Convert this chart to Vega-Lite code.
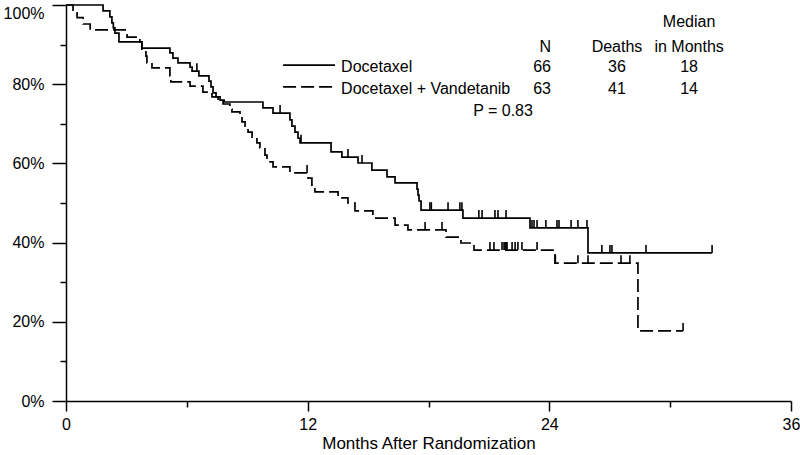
{
  "$schema": "https://vega.github.io/schema/vega-lite/v6.json",
  "width": 725,
  "height": 396,
  "autosize": {"type": "none"},
  "padding": {"left": 66, "top": 5, "right": 9, "bottom": 54},
  "background": "white",
  "config": {"view": {"stroke": null}, "font": "Liberation Sans", "axis": {"grid": false}},
  "datasets": {
    "curves": [
      {"g": "Docetaxel", "t": 0, "s": 100},
      {"g": "Docetaxel", "t": 1.84, "s": 98.5},
      {"g": "Docetaxel", "t": 2.18, "s": 97.0},
      {"g": "Docetaxel", "t": 2.28, "s": 95.5},
      {"g": "Docetaxel", "t": 2.35, "s": 94.2},
      {"g": "Docetaxel", "t": 2.43, "s": 92.9},
      {"g": "Docetaxel", "t": 2.63, "s": 90.7},
      {"g": "Docetaxel", "t": 3.77, "s": 89.1},
      {"g": "Docetaxel", "t": 5.16, "s": 87.9},
      {"g": "Docetaxel", "t": 5.31, "s": 86.6},
      {"g": "Docetaxel", "t": 5.56, "s": 85.4},
      {"g": "Docetaxel", "t": 6.16, "s": 84.3},
      {"g": "Docetaxel", "t": 6.26, "s": 83.3},
      {"g": "Docetaxel", "t": 6.6, "s": 82.1},
      {"g": "Docetaxel", "t": 7.1, "s": 80.8},
      {"g": "Docetaxel", "t": 7.2, "s": 79.3},
      {"g": "Docetaxel", "t": 7.3, "s": 77.8},
      {"g": "Docetaxel", "t": 7.45, "s": 76.8},
      {"g": "Docetaxel", "t": 7.65, "s": 76.0},
      {"g": "Docetaxel", "t": 7.85, "s": 75.5},
      {"g": "Docetaxel", "t": 9.78, "s": 74.0},
      {"g": "Docetaxel", "t": 10.28, "s": 72.7},
      {"g": "Docetaxel", "t": 11.12, "s": 71.0},
      {"g": "Docetaxel", "t": 11.22, "s": 69.4},
      {"g": "Docetaxel", "t": 11.37, "s": 67.9},
      {"g": "Docetaxel", "t": 11.52, "s": 66.4},
      {"g": "Docetaxel", "t": 11.62, "s": 65.2},
      {"g": "Docetaxel", "t": 13.16, "s": 62.9},
      {"g": "Docetaxel", "t": 13.7, "s": 61.6},
      {"g": "Docetaxel", "t": 14.5, "s": 60.1},
      {"g": "Docetaxel", "t": 15.19, "s": 58.3},
      {"g": "Docetaxel", "t": 15.94, "s": 56.6},
      {"g": "Docetaxel", "t": 16.34, "s": 55.1},
      {"g": "Docetaxel", "t": 17.43, "s": 53.5},
      {"g": "Docetaxel", "t": 17.48, "s": 52.0},
      {"g": "Docetaxel", "t": 17.53, "s": 50.5},
      {"g": "Docetaxel", "t": 17.63, "s": 48.2},
      {"g": "Docetaxel", "t": 19.71, "s": 46.2},
      {"g": "Docetaxel", "t": 23.04, "s": 43.7},
      {"g": "Docetaxel", "t": 25.92, "s": 37.4},
      {"g": "Docetaxel", "t": 32.08, "s": 37.4},
      {"g": "Docetaxel + Vandetanib", "t": 0, "s": 100},
      {"g": "Docetaxel + Vandetanib", "t": 0.35, "s": 98.4},
      {"g": "Docetaxel + Vandetanib", "t": 0.55, "s": 96.8},
      {"g": "Docetaxel + Vandetanib", "t": 0.85, "s": 95.2},
      {"g": "Docetaxel + Vandetanib", "t": 1.2, "s": 93.7},
      {"g": "Docetaxel + Vandetanib", "t": 3.03, "s": 91.9},
      {"g": "Docetaxel + Vandetanib", "t": 3.67, "s": 90.7},
      {"g": "Docetaxel + Vandetanib", "t": 3.77, "s": 88.6},
      {"g": "Docetaxel + Vandetanib", "t": 3.97, "s": 87.1},
      {"g": "Docetaxel + Vandetanib", "t": 4.02, "s": 85.4},
      {"g": "Docetaxel + Vandetanib", "t": 4.27, "s": 84.1},
      {"g": "Docetaxel + Vandetanib", "t": 5.16, "s": 82.1},
      {"g": "Docetaxel + Vandetanib", "t": 5.21, "s": 80.6},
      {"g": "Docetaxel + Vandetanib", "t": 6.16, "s": 79.5},
      {"g": "Docetaxel + Vandetanib", "t": 6.8, "s": 78.0},
      {"g": "Docetaxel + Vandetanib", "t": 7.25, "s": 76.8},
      {"g": "Docetaxel + Vandetanib", "t": 7.55, "s": 75.8},
      {"g": "Docetaxel + Vandetanib", "t": 7.8, "s": 75.0},
      {"g": "Docetaxel + Vandetanib", "t": 8.14, "s": 73.7},
      {"g": "Docetaxel + Vandetanib", "t": 8.24, "s": 73.0},
      {"g": "Docetaxel + Vandetanib", "t": 8.64, "s": 71.5},
      {"g": "Docetaxel + Vandetanib", "t": 8.74, "s": 70.5},
      {"g": "Docetaxel + Vandetanib", "t": 8.89, "s": 69.4},
      {"g": "Docetaxel + Vandetanib", "t": 9.04, "s": 67.9},
      {"g": "Docetaxel + Vandetanib", "t": 9.24, "s": 66.4},
      {"g": "Docetaxel + Vandetanib", "t": 9.48, "s": 65.2},
      {"g": "Docetaxel + Vandetanib", "t": 9.63, "s": 63.9},
      {"g": "Docetaxel + Vandetanib", "t": 9.88, "s": 62.1},
      {"g": "Docetaxel + Vandetanib", "t": 9.98, "s": 60.4},
      {"g": "Docetaxel + Vandetanib", "t": 10.28, "s": 59.1},
      {"g": "Docetaxel + Vandetanib", "t": 11.12, "s": 57.6},
      {"g": "Docetaxel + Vandetanib", "t": 12.02, "s": 56.3},
      {"g": "Docetaxel + Vandetanib", "t": 12.21, "s": 54.5},
      {"g": "Docetaxel + Vandetanib", "t": 12.36, "s": 52.8},
      {"g": "Docetaxel + Vandetanib", "t": 13.51, "s": 51.3},
      {"g": "Docetaxel + Vandetanib", "t": 14.0, "s": 50.0},
      {"g": "Docetaxel + Vandetanib", "t": 14.35, "s": 48.0},
      {"g": "Docetaxel + Vandetanib", "t": 15.24, "s": 46.2},
      {"g": "Docetaxel + Vandetanib", "t": 16.34, "s": 44.4},
      {"g": "Docetaxel + Vandetanib", "t": 16.98, "s": 43.2},
      {"g": "Docetaxel + Vandetanib", "t": 18.87, "s": 41.4},
      {"g": "Docetaxel + Vandetanib", "t": 19.61, "s": 39.9},
      {"g": "Docetaxel + Vandetanib", "t": 20.26, "s": 38.1},
      {"g": "Docetaxel + Vandetanib", "t": 24.28, "s": 34.8},
      {"g": "Docetaxel + Vandetanib", "t": 28.4, "s": 17.7},
      {"g": "Docetaxel + Vandetanib", "t": 30.64, "s": 17.7}
    ],
    "censors": [
      {"g": "Docetaxel", "t": 6.5, "s": 83.3},
      {"g": "Docetaxel", "t": 10.63, "s": 72.7},
      {"g": "Docetaxel", "t": 11.67, "s": 65.2},
      {"g": "Docetaxel", "t": 14.0, "s": 61.6},
      {"g": "Docetaxel", "t": 14.7, "s": 60.1},
      {"g": "Docetaxel", "t": 18.07, "s": 48.2},
      {"g": "Docetaxel", "t": 18.14, "s": 48.2},
      {"g": "Docetaxel", "t": 18.97, "s": 48.2},
      {"g": "Docetaxel", "t": 19.56, "s": 48.2},
      {"g": "Docetaxel", "t": 19.66, "s": 48.2},
      {"g": "Docetaxel", "t": 20.5, "s": 46.2},
      {"g": "Docetaxel", "t": 20.66, "s": 46.2},
      {"g": "Docetaxel", "t": 21.3, "s": 46.2},
      {"g": "Docetaxel", "t": 21.45, "s": 46.2},
      {"g": "Docetaxel", "t": 21.85, "s": 46.2},
      {"g": "Docetaxel", "t": 23.14, "s": 43.7},
      {"g": "Docetaxel", "t": 23.24, "s": 43.7},
      {"g": "Docetaxel", "t": 23.39, "s": 43.7},
      {"g": "Docetaxel", "t": 23.83, "s": 43.7},
      {"g": "Docetaxel", "t": 24.38, "s": 43.7},
      {"g": "Docetaxel", "t": 24.48, "s": 43.7},
      {"g": "Docetaxel", "t": 25.08, "s": 43.7},
      {"g": "Docetaxel", "t": 25.42, "s": 43.7},
      {"g": "Docetaxel", "t": 25.87, "s": 43.7},
      {"g": "Docetaxel", "t": 26.61, "s": 37.4},
      {"g": "Docetaxel", "t": 27.01, "s": 37.4},
      {"g": "Docetaxel", "t": 27.11, "s": 37.4},
      {"g": "Docetaxel", "t": 28.8, "s": 37.4},
      {"g": "Docetaxel", "t": 32.08, "s": 37.4},
      {"g": "Docetaxel + Vandetanib", "t": 11.97, "s": 57.6},
      {"g": "Docetaxel + Vandetanib", "t": 17.83, "s": 43.2},
      {"g": "Docetaxel + Vandetanib", "t": 18.67, "s": 43.2},
      {"g": "Docetaxel + Vandetanib", "t": 21.05, "s": 38.1},
      {"g": "Docetaxel + Vandetanib", "t": 21.25, "s": 38.1},
      {"g": "Docetaxel + Vandetanib", "t": 21.65, "s": 38.1},
      {"g": "Docetaxel + Vandetanib", "t": 21.75, "s": 38.1},
      {"g": "Docetaxel + Vandetanib", "t": 21.8, "s": 38.1},
      {"g": "Docetaxel + Vandetanib", "t": 21.85, "s": 38.1},
      {"g": "Docetaxel + Vandetanib", "t": 21.9, "s": 38.1},
      {"g": "Docetaxel + Vandetanib", "t": 22.15, "s": 38.1},
      {"g": "Docetaxel + Vandetanib", "t": 22.3, "s": 38.1},
      {"g": "Docetaxel + Vandetanib", "t": 22.44, "s": 38.1},
      {"g": "Docetaxel + Vandetanib", "t": 22.64, "s": 38.1},
      {"g": "Docetaxel + Vandetanib", "t": 23.39, "s": 38.1},
      {"g": "Docetaxel + Vandetanib", "t": 24.3, "s": 34.8},
      {"g": "Docetaxel + Vandetanib", "t": 25.42, "s": 34.8},
      {"g": "Docetaxel + Vandetanib", "t": 25.92, "s": 34.8},
      {"g": "Docetaxel + Vandetanib", "t": 27.56, "s": 34.8},
      {"g": "Docetaxel + Vandetanib", "t": 28.0, "s": 34.8},
      {"g": "Docetaxel + Vandetanib", "t": 30.64, "s": 17.7}
    ],
    "legendLines": [
      {"g": "Docetaxel", "t": 10.78, "t2": 13.36, "s": 84.8},
      {"g": "Docetaxel + Vandetanib", "t": 10.78, "t2": 13.36, "s": 79.3}
    ],
    "textLeft": [
      {"t": 13.66, "s": 84.3, "label": "Docetaxel"},
      {"t": 13.66, "s": 78.8, "label": "Docetaxel + Vandetanib"}
    ],
    "textRight": [
      {"t": 24.08, "s": 89.4, "label": "N"},
      {"t": 24.08, "s": 84.3, "label": "66"},
      {"t": 24.08, "s": 78.8, "label": "63"}
    ],
    "textCenter": [
      {"t": 27.36, "s": 89.4, "label": "Deaths"},
      {"t": 27.36, "s": 84.3, "label": "36"},
      {"t": 27.36, "s": 78.8, "label": "41"},
      {"t": 30.94, "s": 95.7, "label": "Median"},
      {"t": 30.94, "s": 89.4, "label": "in Months"},
      {"t": 30.94, "s": 84.3, "label": "18"},
      {"t": 30.94, "s": 78.8, "label": "14"},
      {"t": 21.7, "s": 73.2, "label": "P = 0.83"}
    ]
  },
  "encoding": {
    "x": {
      "field": "t", "type": "quantitative",
      "scale": {"domain": [0, 36], "nice": false, "zero": false},
      "axis": {
        "values": [0, 6, 12, 18, 24, 30, 36],
        "labelExpr": "datum.value % 12 === 0 ? datum.label : ''",
        "tickSize": {"condition": {"test": "datum.value % 12 === 0", "value": 10}, "value": 6},
        "labelPadding": 5,
        "labelFlush": false,
        "labelOverlap": false,
        "labelFont": "Liberation Sans",
        "labelFontSize": 16,
        "labelColor": "black",
        "domainColor": "black",
        "domainWidth": 1.5,
        "tickColor": "black",
        "tickWidth": 1.5,
        "title": "Months After Randomization",
        "titleFont": "Liberation Sans",
        "titleFontSize": 17,
        "titleFontWeight": "normal",
        "titleColor": "black",
        "titlePadding": 3
      }
    },
    "y": {
      "field": "s", "type": "quantitative",
      "scale": {"domain": [0, 100], "nice": false},
      "axis": {
        "values": [0, 10, 20, 30, 40, 50, 60, 70, 80, 90, 100],
        "labelExpr": "datum.value % 20 === 0 ? datum.value + '%' : ''",
        "tickSize": {"condition": {"test": "datum.value % 20 === 0", "value": 14}, "value": 6},
        "labelBaseline": {"condition": {"test": "datum.value === 100", "value": "top"}, "value": "middle"},
        "labelPadding": 8,
        "labelFlush": false,
        "labelOverlap": false,
        "labelFont": "Liberation Sans",
        "labelFontSize": 16,
        "labelColor": "black",
        "domainColor": "black",
        "domainWidth": 1.5,
        "tickColor": "black",
        "tickWidth": 1.5,
        "title": null
      }
    }
  },
  "layer": [
    {
      "data": {"name": "curves"},
      "mark": {"type": "line", "interpolate": "step-after", "color": "black", "strokeWidth": 1.7},
      "encoding": {
        "detail": {"field": "g"},
        "strokeDash": {
          "field": "g", "type": "nominal",
          "scale": {"domain": ["Docetaxel", "Docetaxel + Vandetanib"], "range": [[1, 0], [13, 5]]},
          "legend": null
        }
      }
    },
    {
      "data": {"name": "censors"},
      "mark": {"type": "tick", "orient": "vertical", "color": "black", "opacity": 1, "size": 8, "thickness": 1.6, "yOffset": -4}
    },
    {
      "data": {"name": "legendLines"},
      "mark": {"type": "rule", "color": "black", "strokeWidth": 1.7},
      "encoding": {
        "x2": {"field": "t2"},
        "strokeDash": {
          "field": "g", "type": "nominal",
          "scale": {"domain": ["Docetaxel", "Docetaxel + Vandetanib"], "range": [[1, 0], [13, 5]]},
          "legend": null
        }
      }
    },
    {
      "data": {"name": "textLeft"},
      "mark": {"type": "text", "align": "left", "baseline": "middle", "font": "Liberation Sans", "fontSize": 16, "color": "black"},
      "encoding": {"text": {"field": "label"}}
    },
    {
      "data": {"name": "textRight"},
      "mark": {"type": "text", "align": "right", "baseline": "middle", "font": "Liberation Sans", "fontSize": 16, "color": "black"},
      "encoding": {"text": {"field": "label"}}
    },
    {
      "data": {"name": "textCenter"},
      "mark": {"type": "text", "align": "center", "baseline": "middle", "font": "Liberation Sans", "fontSize": 16, "color": "black"},
      "encoding": {"text": {"field": "label"}}
    }
  ]
}
